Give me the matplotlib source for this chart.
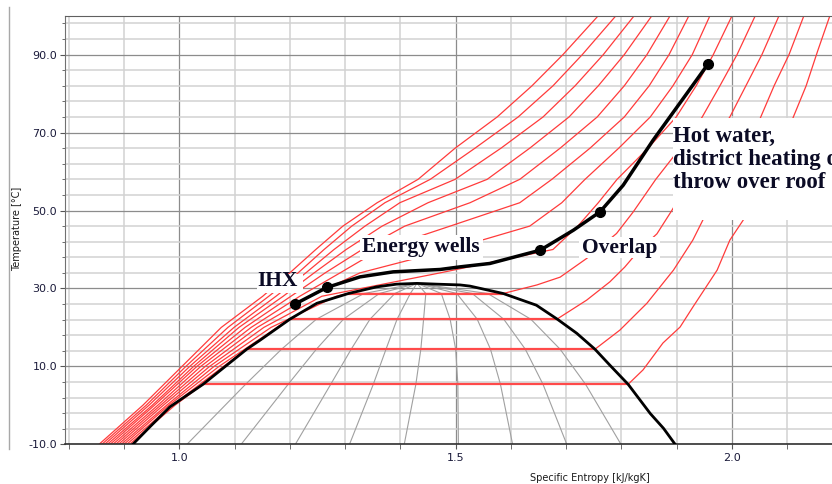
import matplotlib
matplotlib.use("Agg")
import matplotlib.pyplot as plt
import numpy as np
from matplotlib.lines import Line2D
from matplotlib.patches import Rectangle

# ---- saturation dome (R744) ----
dome_liq_s = [0.916, 0.947, 0.983, 1.043, 1.122, 1.146, 1.200, 1.249, 1.306, 1.357, 1.393, 1.430]
dome_liq_T = [-10, -5.5, -0.4, 5.4, 14.4, 16.7, 22.1, 26.2, 28.7, 30.4, 31.1, 31.3]
dome_vap_s = [1.430, 1.466, 1.508, 1.526, 1.586, 1.646, 1.684, 1.719, 1.752, 1.779, 1.812, 1.852, 1.876, 1.897]
dome_vap_T = [31.3, 31.1, 30.9, 30.6, 28.7, 25.7, 22.1, 18.5, 14.4, 10.3, 5.4, -2.1, -5.9, -10]

# ---- vapour quality lines x = 0.1 ... 0.9 ----
qual_T = [-10, 5.4, 14.4, 22.1, 28.7, 31.3]
qual_s = [
    [1.014, 1.120, 1.185, 1.248, 1.334, 1.430],
    [1.112, 1.197, 1.248, 1.297, 1.362, 1.430],
    [1.210, 1.274, 1.311, 1.345, 1.390, 1.430],
    [1.308, 1.351, 1.374, 1.394, 1.418, 1.430],
    [1.407, 1.428, 1.437, 1.442, 1.446, 1.430],
    [1.505, 1.504, 1.500, 1.490, 1.474, 1.430],
    [1.603, 1.581, 1.563, 1.539, 1.502, 1.430],
    [1.701, 1.658, 1.626, 1.587, 1.530, 1.430],
    [1.799, 1.735, 1.689, 1.636, 1.558, 1.430],
]

# ---- subcritical isobars (liquid, two-phase, vapour) ----
p40_T = [-10, 0, 5.4, 5.4, 9.1, 16, 20.1, 25.2, 34.7, 42.4, 47.5, 56.5, 64.8, 73.7, 82, 91, 100]
p40_s = [0.910, 0.992, 1.043, 1.812, 1.839, 1.875, 1.906, 1.929, 1.973, 1.996, 2.020, 2.050, 2.079, 2.110, 2.134, 2.155, 2.177]
p50_T = [-10, 0, 10, 14.4, 14.4, 19.3, 26.2, 34.7, 42.4, 47.5, 56, 64, 73.7, 82, 90, 100]
p50_s = [0.905, 0.987, 1.080, 1.122, 1.752, 1.797, 1.846, 1.894, 1.929, 1.947, 1.975, 2.005, 2.051, 2.076, 2.103, 2.130]
p60_T = [-10, 0, 10, 20, 22.1, 22.1, 27.0, 31.7, 35.5, 40, 44, 50, 58, 66, 74, 82, 90, 100]
p60_s = [0.900, 0.981, 1.072, 1.177, 1.200, 1.683, 1.737, 1.779, 1.806, 1.833, 1.864, 1.891, 1.924, 1.957, 1.996, 2.025, 2.054, 2.085]
p70_T = [-10, 0, 10, 20, 28, 28.7, 28.7, 30.9, 32.9, 37.7, 44.1, 49.6, 58, 66, 74, 82, 90, 100]
p70_s = [0.895, 0.977, 1.063, 1.166, 1.284, 1.306, 1.586, 1.647, 1.689, 1.737, 1.791, 1.821, 1.862, 1.906, 1.946, 1.978, 2.009, 2.042]

sat_T = [5.4, 14.4, 22.1, 28.7]
sat_sl = [1.043, 1.122, 1.200, 1.306]
sat_sv = [1.812, 1.752, 1.684, 1.586]

# ---- supercritical isobars on a common temperature grid ----
T_rows = [-10, 0, 10, 20, 28, 34, 40, 46, 52, 58, 66, 74, 82, 90, 100]
s_80 = [0.890, 0.971, 1.055, 1.153, 1.258, 1.472, 1.676, 1.721, 1.758, 1.792, 1.848, 1.899, 1.935, 1.966, 2.000]
s_90 = [0.885, 0.966, 1.047, 1.141, 1.237, 1.327, 1.490, 1.634, 1.692, 1.734, 1.795, 1.852, 1.893, 1.928, 1.960]
s_100 = [0.880, 0.961, 1.039, 1.130, 1.218, 1.291, 1.363, 1.490, 1.616, 1.674, 1.743, 1.805, 1.850, 1.886, 1.922]
s_110 = [0.875, 0.955, 1.032, 1.119, 1.202, 1.264, 1.331, 1.408, 1.526, 1.616, 1.689, 1.756, 1.805, 1.846, 1.888]
s_120 = [0.870, 0.951, 1.026, 1.108, 1.188, 1.244, 1.302, 1.367, 1.450, 1.557, 1.634, 1.705, 1.758, 1.805, 1.855]
s_130 = [0.865, 0.945, 1.019, 1.099, 1.175, 1.229, 1.280, 1.336, 1.399, 1.499, 1.582, 1.658, 1.716, 1.767, 1.823]
s_140 = [0.860, 0.940, 1.012, 1.088, 1.162, 1.215, 1.262, 1.312, 1.372, 1.454, 1.535, 1.613, 1.676, 1.729, 1.790]
s_150 = [0.855, 0.934, 1.005, 1.076, 1.151, 1.200, 1.247, 1.296, 1.358, 1.432, 1.499, 1.575, 1.638, 1.694, 1.758]

# ---- the cycle (black) ----
cycle_s = [1.209, 1.267, 1.327, 1.387, 1.472, 1.508, 1.562, 1.653, 1.713, 1.761, 1.803, 1.857, 1.918, 1.957]
cycle_T = [25.97, 30.25, 32.97, 34.26, 34.87, 35.54, 36.41, 39.82, 44.95, 49.64, 56.48, 68.02, 80.0, 87.69]
dots_s = [1.209, 1.267, 1.653, 1.761, 1.957]
dots_T = [25.97, 30.25, 39.82, 49.64, 87.69]

RED = "#ff3b3b"
TXT = "#0b0b25"

fig = plt.figure(figsize=(8.32, 4.84), dpi=100)
ax = fig.add_axes([65 / 832, 39.7 / 484, 1 - 65 / 832, 428.6 / 484])
ax.set_xlim(0.7933, 2.1808)
ax.set_ylim(-10, 100)

# grid
ax.set_xticks([1.0, 1.5, 2.0])
ax.set_xticks(np.arange(0.8, 2.15, 0.1), minor=True)
ax.set_yticks(np.arange(-10, 91, 20))
ax.set_yticks(np.arange(-10, 100, 4), minor=True)
ax.set_xticklabels(["1.0", "1.5", "2.0"])
ax.set_yticklabels([f"{v:.1f}" for v in np.arange(-10, 91, 20)])
ax.grid(which="minor", color="#d2d2d2", lw=1.1, zorder=0)
ax.grid(which="major", color="#8c8c8c", lw=0.9, zorder=0)
ax.set_axisbelow(True)
ax.tick_params(which="both", labelsize=8, labelcolor="#1a1a3a", colors="#555555")
ax.tick_params(axis="y", which="major", length=3.6, pad=2)
ax.tick_params(axis="y", which="minor", length=2.2)
ax.tick_params(axis="x", which="both", length=3.4, pad=3)
ax.spines["right"].set_visible(False)
ax.spines["left"].set_color("#707070")
ax.spines["top"].set_color("#606060")
ax.spines["bottom"].set_color("#303030")
ax.spines["bottom"].set_linewidth(1.2)

# quality lines
for qs in qual_s:
    ax.plot(qs, qual_T, color="#a0a0a0", lw=0.8, zorder=1)

# isobars
for s_list in [s_80, s_90, s_100, s_110, s_120, s_130, s_140, s_150]:
    ax.plot(s_list, T_rows, color=RED, lw=0.9, zorder=2)
for ps, pT in [(p40_s, p40_T), (p50_s, p50_T), (p60_s, p60_T), (p70_s, p70_T)]:
    ax.plot(ps, pT, color=RED, lw=0.9, zorder=2)
ax.hlines(sat_T, sat_sl, sat_sv, color="#ff4a4a", lw=1.6, zorder=2)

# white label boxes
for x0, x1, y0, y1 in [(1.893, 2.25, 47.5, 73.7), (1.724, 1.870, 37.7, 43.3),
                       (1.327, 1.549, 37.3, 43.6), (1.141, 1.224, 28.9, 33.6)]:
    ax.add_patch(Rectangle((x0, y0), x1 - x0, y1 - y0, facecolor="white",
                           edgecolor="none", zorder=3))

# dome
ax.plot(dome_liq_s + dome_vap_s[1:], dome_liq_T + dome_vap_T[1:], color="black", lw=2.0,
        zorder=4, solid_joinstyle="round")

# cycle
ax.plot(cycle_s, cycle_T, color="black", lw=2.5, zorder=5, solid_capstyle="round",
        solid_joinstyle="round")
ax.plot(dots_s, dots_T, "o", color="black", ms=7, zorder=6)

font = dict(family="Liberation Serif", weight="bold", color=TXT, zorder=7)
ax.text(1.142, 31.9, "IHX", ha="left", va="center", size=15.5, **font)
ax.text(1.331, 40.6, "Energy wells", ha="left", va="center", size=15.5, **font)
ax.text(1.729, 40.3, "Overlap", ha="left", va="center", size=15.5, **font)
ax.text(1.893, 63.0, "Hot water,\ndistrict heating or\nthrow over roof", ha="left", va="center",
        linespacing=1.12, size=16.5, **font)

fig.text(17 / 832, 1 - 229 / 484, "Temperature [°C]", rotation=90, fontsize=7,
         ha="center", va="center", color="#1a1a1a")
fig.text(590 / 832, 1 - 478 / 484, "Specific Entropy [kJ/kgK]", fontsize=7,
         ha="center", va="center", color="#1a1a1a")
fig.add_artist(Line2D([9 / 832, 9 / 832], [1 - 7 / 484, 1 - 449 / 484], color="#a8a8a8", lw=1))

fig.savefig("out.png", dpi=100)
